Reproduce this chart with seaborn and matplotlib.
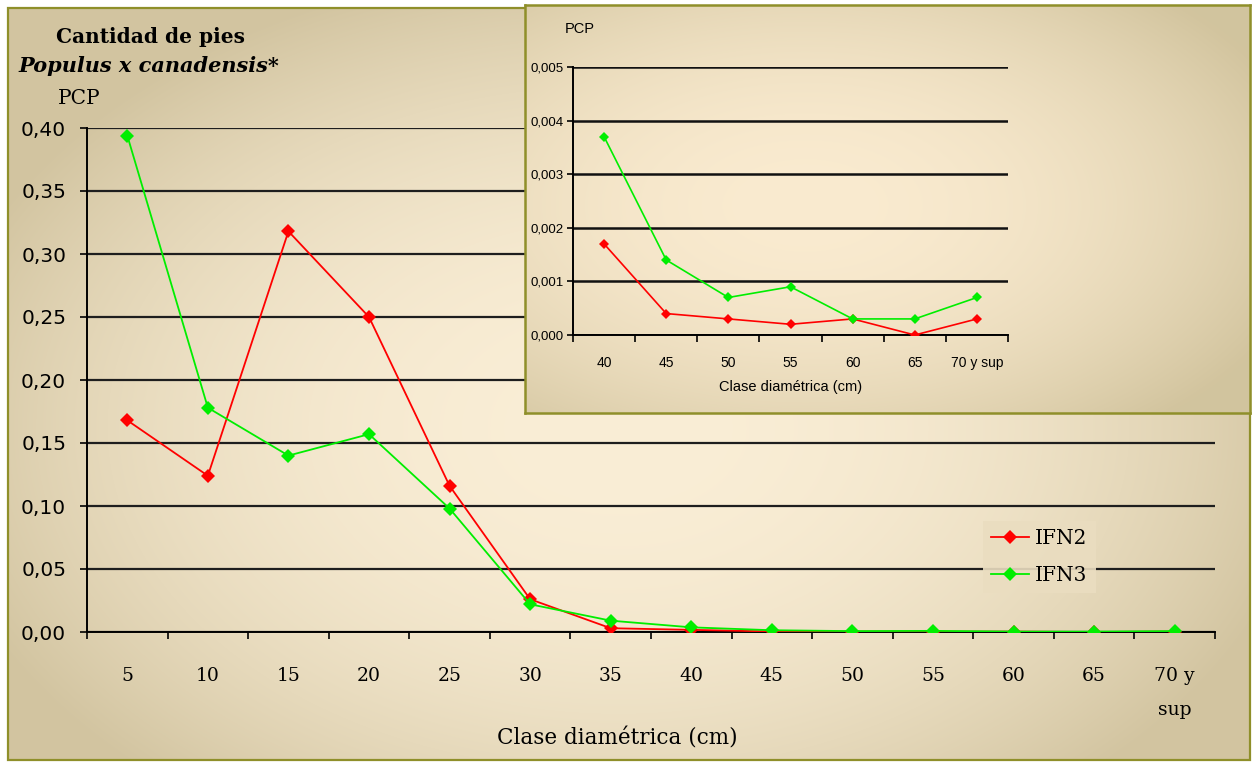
import numpy as np
import pandas as pd
import matplotlib
matplotlib.use("Agg")
import matplotlib.pyplot as plt
import seaborn as sns
from matplotlib.lines import Line2D
from matplotlib.patches import Rectangle

# ---------------- data ----------------
categories = ['5', '10', '15', '20', '25', '30', '35', '40', '45', '50', '55', '60', '65', '70 y\nsup']
ifn2 = [0.168, 0.124, 0.318, 0.250, 0.116, 0.026, 0.003, 0.0017, 0.0004, 0.0003, 0.0002, 0.0003, 0.0, 0.0003]
ifn3 = [0.394, 0.178, 0.140, 0.157, 0.098, 0.022, 0.009, 0.0037, 0.0014, 0.0007, 0.0009, 0.0003, 0.0003, 0.0007]
series_names = ['IFN2', 'IFN3']
main_yticks = [0.00, 0.05, 0.10, 0.15, 0.20, 0.25, 0.30, 0.35, 0.40]

inset_categories = ['40', '45', '50', '55', '60', '65', '70 y sup']
inset_ifn2 = ifn2[7:]
inset_ifn3 = ifn3[7:]
inset_yticks = [0.000, 0.001, 0.002, 0.003, 0.004, 0.005]

colors = {'IFN2': '#ff0000', 'IFN3': '#00ee00'}

W, H = 1252, 762
fig = plt.figure(figsize=(W / 100, H / 100), dpi=100)
fig.patch.set_facecolor('white')


def gradient(w, h, cx, cy, rx, ry, c_center, c_edge, power=2.0):
    yy, xx = np.mgrid[0:h, 0:w]
    d = np.sqrt(((xx - cx) / rx) ** 2 + ((yy - cy) / ry) ** 2)
    t = np.clip(d, 0, 1) ** power
    cc = np.array(c_center) / 255.0
    ce = np.array(c_edge) / 255.0
    return cc[None, None, :] * (1 - t[..., None]) + ce[None, None, :] * t[..., None]


def fx(px):
    return px / W


def fy(py):
    return 1 - py / H


# ------------- main background -------------
bg = fig.add_axes([0, 0, 1, 1], zorder=0)
bg.axis('off')
x0, y0, x1, y1 = 8, 8, 1250, 760
img = gradient(x1 - x0, y1 - y0, 610, 420, 700, 470, (250, 238, 214), (210, 196, 160), power=2.2)
bg.imshow(img, extent=(x0, x1, y1, y0), aspect='auto', interpolation='bilinear')
bg.add_patch(Rectangle((x0, y0), x1 - x0, y1 - y0, fill=False, edgecolor='#8f8f2a', linewidth=1.6))
bg.set_xlim(0, W)
bg.set_ylim(H, 0)

serif = ['DejaVu Serif']
sans = ['DejaVu Sans']

# ------------- main axes -------------
L, R, T, B = 87, 1215, 128, 632
ax = fig.add_axes([fx(L), fy(B), (R - L) / W, (B - T) / H], zorder=1)
ax.set_facecolor('none')

df = pd.DataFrame({
    'Clase': categories * 2,
    'PCP': ifn2 + ifn3,
    'Serie': [series_names[0]] * len(categories) + [series_names[1]] * len(categories),
})
sns.lineplot(data=df, x='Clase', y='PCP', hue='Serie', palette=colors, sort=False,
             marker='D', markersize=7.5, markeredgewidth=0, linewidth=1.3,
             legend=False, ax=ax, zorder=3)

n = len(categories)
ax.set_xlim(-0.5, n - 0.5)
ax.set_ylim(0, 0.40)
ax.set_yticks(main_yticks)
ax.set_yticklabels([f"{v:.2f}".replace('.', ',') for v in main_yticks], family=sans, fontsize=14.5)
ax.set_xticks(range(n))
ax.set_xticklabels(categories, family=serif, fontsize=13.5)
for lab in ax.get_xticklabels():
    lab.set_linespacing(2.15)
ax.set_xticks(np.arange(-0.5, n, 1.0), minor=True)
ax.tick_params(axis='x', which='major', length=0, pad=25)
ax.tick_params(axis='x', which='minor', length=5, width=1.2, color='black', direction='out')
ax.tick_params(axis='y', which='major', length=5, width=1.2, color='black', pad=10)
ax.grid(axis='y', color='#1e1e1e', linewidth=1.6)
ax.grid(axis='x', visible=False)
ax.set_axisbelow(True)
for s in ['top', 'right']:
    ax.spines[s].set_visible(False)
for s in ['left', 'bottom']:
    ax.spines[s].set_color('black')
    ax.spines[s].set_linewidth(1.4)
ax.set_ylabel('')
ax.set_xlabel('Clase diamétrica (cm)', family=serif, fontsize=15.5)
ax.xaxis.label.set_va('center')
ax.xaxis.set_label_coords((617 - L) / (R - L), -(738 - B) / (B - T))

# legend box colour = local background colour
lx, ly = 1040 - x0, 557 - y0
leg_bg = img[ly, lx]

handles = [Line2D([], [], color=colors[s], marker='D', markersize=7.5, markeredgewidth=0, linewidth=1.3)
           for s in series_names]
leg = ax.legend(handles, series_names, loc='center left', bbox_to_anchor=(fx(983), fy(557)),
                bbox_transform=fig.transFigure, frameon=True, fancybox=False,
                prop={'family': serif, 'size': 14.5}, handlelength=1.9, handletextpad=0.3,
                labelspacing=0.85, borderpad=0.4, borderaxespad=0)
leg.get_frame().set_facecolor(leg_bg)
leg.get_frame().set_edgecolor('none')
leg.get_frame().set_alpha(0.9)

fig.text(fx(150), fy(37), 'Cantidad de pies', family=serif, fontsize=14.5, fontweight='bold',
         ha='center', va='center')
fig.text(fx(18), fy(66), 'Populus x canadensis*', family=serif, fontsize=15, fontweight='bold',
         style='italic', ha='left', va='center')
fig.text(fx(79), fy(98), 'PCP', family=serif, fontsize=14.5, ha='center', va='center')

# ------------- inset -------------
ix0, iy0, ix1, iy1 = 525, 5, 1250, 413
ibg = fig.add_axes([fx(ix0), fy(iy1), (ix1 - ix0) / W, (iy1 - iy0) / H], zorder=2)
ibg.set_xlim(0, ix1 - ix0)
ibg.set_ylim(iy1 - iy0, 0)
iimg = gradient(ix1 - ix0, iy1 - iy0, 280, 200, 520, 290, (250, 235, 208), (210, 196, 158), power=2.0)
ibg.imshow(iimg, extent=(0, ix1 - ix0, iy1 - iy0, 0), aspect='auto', interpolation='bilinear')
ibg.set_xticks([])
ibg.set_yticks([])
for s in ibg.spines.values():
    s.set_color('#8f8f2a')
    s.set_linewidth(1.8)

IL, IR, IT, IB = 573, 1008, 67, 335
iax = fig.add_axes([fx(IL), fy(IB), (IR - IL) / W, (IB - IT) / H], zorder=3)
iax.set_facecolor('none')
idf = pd.DataFrame({
    'Clase': inset_categories * 2,
    'PCP': inset_ifn2 + inset_ifn3,
    'Serie': [series_names[0]] * len(inset_categories) + [series_names[1]] * len(inset_categories),
})
sns.lineplot(data=idf, x='Clase', y='PCP', hue='Serie', palette=colors, sort=False,
             marker='D', markersize=5, markeredgewidth=0, linewidth=1.2,
             legend=False, ax=iax, zorder=3)
m = len(inset_categories)
narrow = ['Liberation Sans Narrow', 'Liberation Sans']
iax.set_xlim(-0.5, m - 0.5)
iax.set_ylim(0, 0.005)
iax.set_yticks(inset_yticks)
iax.set_yticklabels([f"{v:.3f}".replace('.', ',') for v in inset_yticks], family=narrow, fontsize=9.5)
iax.set_xticks(range(m))
iax.set_xticklabels(inset_categories, family=narrow, fontsize=10)
iax.set_xticks(np.arange(-0.5, m, 1.0), minor=True)
iax.tick_params(axis='x', which='major', length=0, pad=15)
iax.tick_params(axis='x', which='minor', length=5, width=1.2, color='black', direction='out')
iax.tick_params(axis='y', which='major', length=4, width=1.2, color='black', pad=3)
iax.grid(axis='y', color='#111111', linewidth=1.8)
iax.grid(axis='x', visible=False)
iax.set_axisbelow(True)
for s in ['top', 'right']:
    iax.spines[s].set_visible(False)
for s in ['left', 'bottom']:
    iax.spines[s].set_color('black')
    iax.spines[s].set_linewidth(1.4)
iax.set_ylabel('')
iax.set_xlabel('Clase diamétrica (cm)', family=narrow, fontsize=10.5)
iax.xaxis.label.set_va('center')
iax.xaxis.set_label_coords((791 - IL) / (IR - IL), -(387 - IB) / (IB - IT))
fig.text(fx(580), fy(29), 'PCP', family=narrow, fontsize=10.5, ha='center', va='center')

fig.savefig('out.png', dpi=100)
